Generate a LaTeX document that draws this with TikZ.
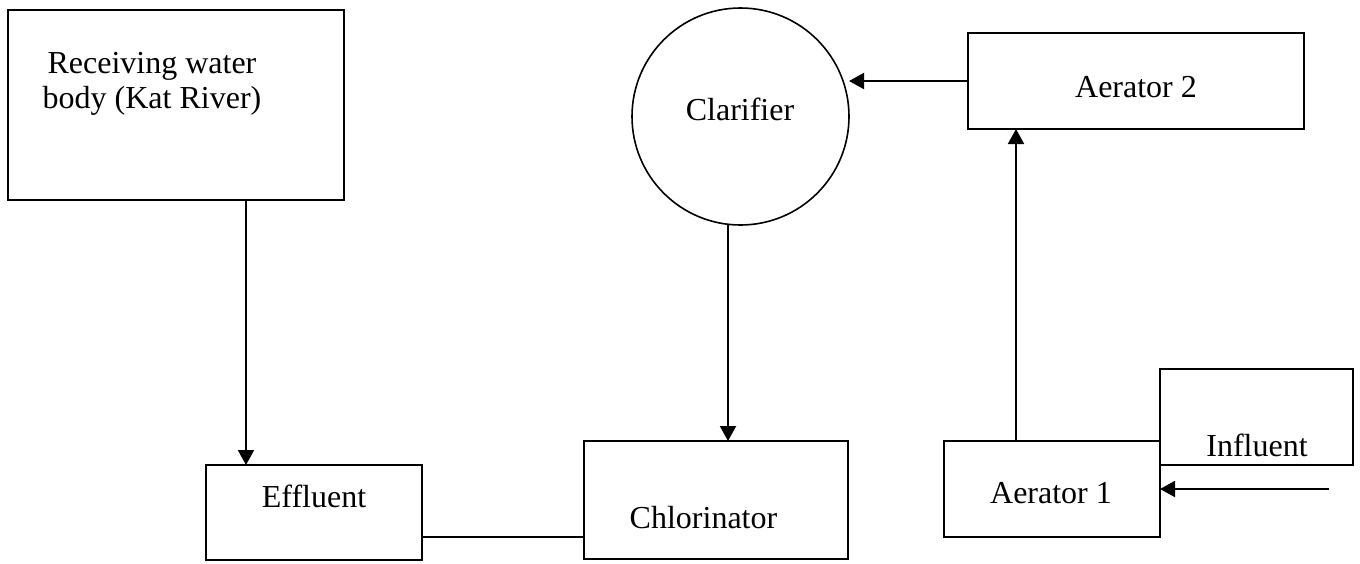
\documentclass[tikz,border=0pt]{standalone}
\usepackage{fontspec}
\setmainfont{Liberation Serif}
\usetikzlibrary{arrows.meta}
\begin{document}
\begin{tikzpicture}[x=0.5pt,y=-0.5pt,
  box/.style={draw, line width=1pt, rectangle, inner sep=0pt, outer sep=0pt},
  txt/.style={inner sep=0pt, anchor=base, font=\fontsize{16}{17.5}\selectfont},
  conn/.style={line width=1pt},
  arr/.style={conn, -{Triangle[length=7.5pt,width=8pt]}}]
\useasboundingbox (0,0) rectangle (1360,563);
% boxes
\node[box, minimum width=168pt, minimum height=95pt] (rec) at (176,105) {};
\node[box, minimum width=108pt, minimum height=47.5pt] (eff) at (314,512.5) {};
\node[box, minimum width=132pt, minimum height=59pt] (chl) at (716,500) {};
\node[draw, line width=0.8pt, circle, minimum size=108.5pt, inner sep=0pt, outer sep=0pt] (clar) at (740.5,116.5) {};
\node[box, minimum width=168pt, minimum height=48pt] (a2) at (1136,81) {};
\node[box, minimum width=108pt, minimum height=48pt] (a1) at (1052,489) {};
\node[box, minimum width=96.5pt, minimum height=48pt] (inf) at (1256.5,417) {};
% texts
\node[txt, anchor=center, align=center] (rect) at (152,84) {Receiving water\\body (Kat River)};
\node[txt] (efft) at (314,507) {Effluent};
\node[txt] (chlt) at (703.5,528) {Chlorinator};
\node[txt] (clart) at (740,120) {Clarifier};
\node[txt] (a2t) at (1136,97) {Aerator 2};
\node[txt] (a1t) at (1051,503) {Aerator 1};
\node[txt] (inft) at (1257,456) {Influent};
% helper coordinates
\coordinate (xr) at (246,0);
\coordinate (xc) at (728,0);
\coordinate (xa) at (1016,0);
\coordinate (infsrc) at (1329,489);
% connectors
\draw[arr] (rec.south -| xr) -- (eff.north -| xr);
\draw[conn] (eff.east |- 0,537) -- (chl.west |- 0,537);
\draw[arr] (clar.south -| xc) -- (chl.north -| xc);
\draw[arr] (a1.north -| xa) -- (a2.south -| xa);
\draw[arr] (a2.west) -- (a2.west -| clar.east);
\draw[arr] (infsrc) -- (a1.east);
\end{tikzpicture}
\end{document}
